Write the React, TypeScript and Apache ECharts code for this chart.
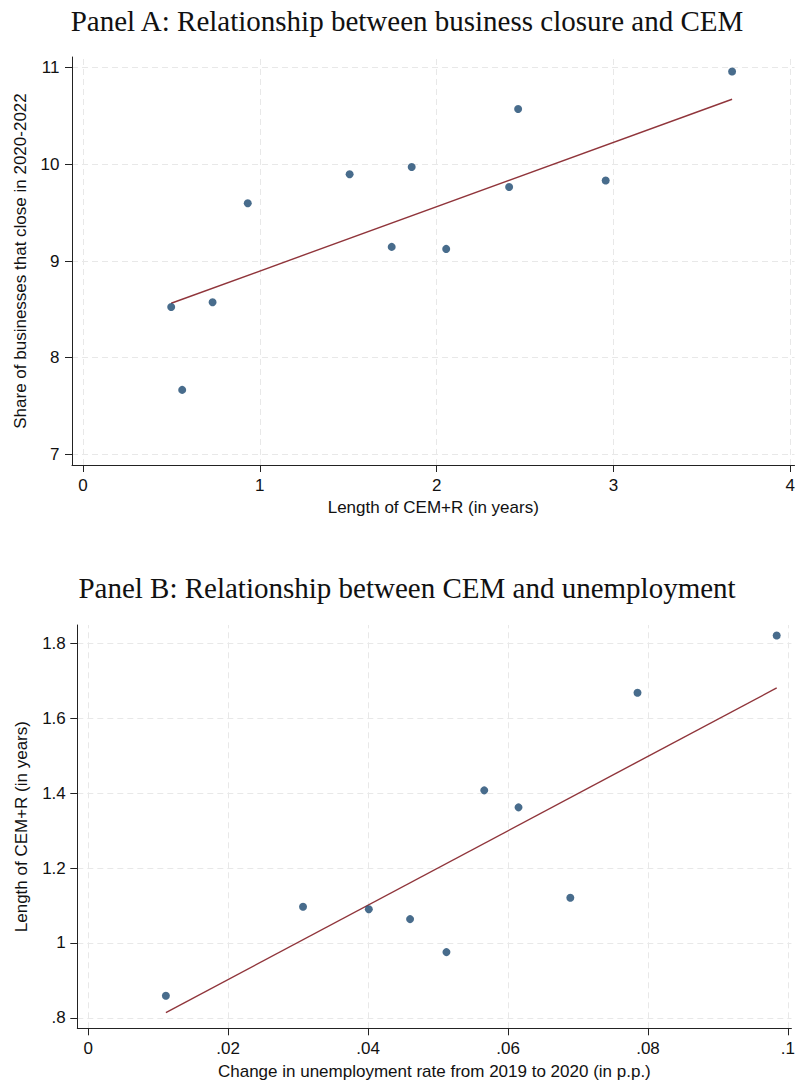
import React, { useEffect, useRef } from "react";
import * as echarts from "echarts";

// Panel A data: Length of CEM+R (years) vs share of businesses closing 2020-2022
const aX = [0.499, 0.561, 0.733, 0.932, 1.508, 1.746, 1.859, 2.054, 2.41, 2.461, 2.956, 3.671];
const aY = [8.525, 7.667, 8.574, 9.598, 9.898, 9.146, 9.973, 9.125, 9.766, 10.573, 9.832, 10.96];
const aFitX = [0.499, 3.671];
const aFitY = [8.563, 10.673];
const aXTicks = [0, 1, 2, 3, 4];
const aYTicks = [7, 8, 9, 10, 11];

// Panel B data: change in unemployment rate vs Length of CEM+R
const bX = [0.0111, 0.0307, 0.0401, 0.046, 0.0512, 0.0566, 0.0615, 0.0689, 0.0785, 0.0984];
const bY = [0.859, 1.0965, 1.09, 1.0636, 0.9755, 1.4074, 1.362, 1.1205, 1.668, 1.821];
const bFitX = [0.0111, 0.0984];
const bFitY = [0.814, 1.681];
const bXTicks = [0, 0.02, 0.04, 0.06, 0.08, 0.1];
const bXLabels = ["0", ".02", ".04", ".06", ".08", ".1"];
const bYTicks = [0.8, 1, 1.2, 1.4, 1.6, 1.8];
const bYLabels = [".8", "1", "1.2", "1.4", "1.6", "1.8"];

const titleA = "Panel A: Relationship between business closure and CEM";
const titleB = "Panel B: Relationship between CEM and unemployment";
const xNameA = "Length of CEM+R (in years)";
const yNameA = "Share of businesses that close in 2020-2022";
const xNameB = "Change in unemployment rate from 2019 to 2020 (in p.p.)";
const yNameB = "Length of CEM+R (in years)";

const SANS = "Liberation Sans";
const SERIF = "Liberation Serif";
const NAVY = "#1a476f";
const MAROON = "#90353b";
const GRIDC = "#e8e8e8";
const AXISC = "#222";

function fmt(ticks: number[], labels?: string[]) {
  return (v: number) => {
    const i = ticks.findIndex((t) => Math.abs(t - v) < 1e-9);
    if (labels && i >= 0) return labels[i];
    return String(v);
  };
}

function axisCommon(ticks: number[], labels: string[] | undefined, margin: number) {
  return {
    type: "value",
    axisLine: { show: true, onZero: false, lineStyle: { color: AXISC, width: 1 } },
    axisTick: { show: true, customValues: ticks, length: 7, lineStyle: { color: AXISC, width: 1 } },
    axisLabel: {
      customValues: ticks,
      formatter: fmt(ticks, labels),
      fontFamily: SANS,
      fontSize: 17,
      color: "#111",
      margin,
    },
    splitLine: { show: false },
  };
}

function gridLines(xt: number[], yt: number[]) {
  return {
    silent: true,
    z: 0,
    symbol: ["none", "none"],
    label: { show: false },
    lineStyle: { type: [6, 4], color: GRIDC, width: 1 },
    emphasis: { disabled: true },
    data: [...xt.map((v) => ({ xAxis: v })), ...yt.map((v) => ({ yAxis: v }))],
  };
}

export default function App() {
  const ref = useRef<HTMLDivElement>(null);
  useEffect(() => {
    if (!ref.current) return;
    const chart = echarts.init(ref.current, null, { renderer: "svg" });
    const option: any = {
      animation: false,
      backgroundColor: "#fff",
      graphic: [
        {
          type: "text",
          x: 407,
          y: 21.3,
          style: { text: titleA, font: `29px "${SERIF}"`, fill: "#111", textAlign: "center", textVerticalAlign: "middle" },
        },
        {
          type: "text",
          x: 407,
          y: 587.6,
          style: { text: titleB, font: `29px "${SERIF}"`, fill: "#111", textAlign: "center", textVerticalAlign: "middle" },
        },
      ],
      grid: [
        { left: 72, top: 57, right: 0, bottom: 1088 - 465 },
        { left: 77.3, top: 625, right: 0, bottom: 1088 - 1028.3 },
      ],
      xAxis: [
        {
          ...axisCommon(aXTicks, undefined, 12),
          gridIndex: 0,
          min: -0.062,
          max: 4.024,
          name: xNameA,
          nameLocation: "middle",
          nameGap: 34.4,
          nameTextStyle: { fontFamily: SANS, fontSize: 17, color: "#111" },
        },
        {
          ...axisCommon(bXTicks, bXLabels, 12),
          gridIndex: 1,
          min: -0.00156,
          max: 0.1005,
          name: xNameB,
          nameLocation: "middle",
          nameGap: 34.4,
          nameTextStyle: { fontFamily: SANS, fontSize: 17, color: "#111" },
        },
      ],
      yAxis: [
        {
          ...axisCommon(aYTicks, undefined, 12.5),
          gridIndex: 0,
          min: 6.89,
          max: 11.11,
          name: yNameA,
          nameLocation: "middle",
          nameRotate: 90,
          nameGap: 43,
          nameTextStyle: { fontFamily: SANS, fontSize: 17, color: "#111" },
        },
        {
          ...axisCommon(bYTicks, bYLabels, 11.5),
          gridIndex: 1,
          min: 0.772,
          max: 1.849,
          name: yNameB,
          nameLocation: "middle",
          nameRotate: 90,
          nameGap: 47,
          nameTextStyle: { fontFamily: SANS, fontSize: 17, color: "#111" },
        },
      ],
      series: [
        {
          type: "line",
          xAxisIndex: 0,
          yAxisIndex: 0,
          z: 2,
          data: aFitX.map((x, i) => [x, aFitY[i]]),
          showSymbol: false,
          symbol: "none",
          lineStyle: { color: MAROON, width: 1.4 },
          silent: true,
          markLine: gridLines(aXTicks, aYTicks),
        },
        {
          type: "scatter",
          xAxisIndex: 0,
          yAxisIndex: 0,
          z: 3,
          symbol: "circle",
          symbolSize: 8,
          itemStyle: { color: NAVY },
          data: aX.map((x, i) => [x, aY[i]]),
        },
        {
          type: "line",
          xAxisIndex: 1,
          yAxisIndex: 1,
          z: 2,
          data: bFitX.map((x, i) => [x, bFitY[i]]),
          showSymbol: false,
          symbol: "none",
          lineStyle: { color: MAROON, width: 1.4 },
          silent: true,
          markLine: gridLines(bXTicks, bYTicks),
        },
        {
          type: "scatter",
          xAxisIndex: 1,
          yAxisIndex: 1,
          z: 3,
          symbol: "circle",
          symbolSize: 8,
          itemStyle: { color: NAVY },
          data: bX.map((x, i) => [x, bY[i]]),
        },
      ],
    };
    chart.setOption(option);
    return () => chart.dispose();
  }, []);
  return (
    <div
      ref={ref}
      style={{ position: "absolute", left: 0, top: 0, width: 798, height: 1088, background: "#fff" }}
    />
  );
}
